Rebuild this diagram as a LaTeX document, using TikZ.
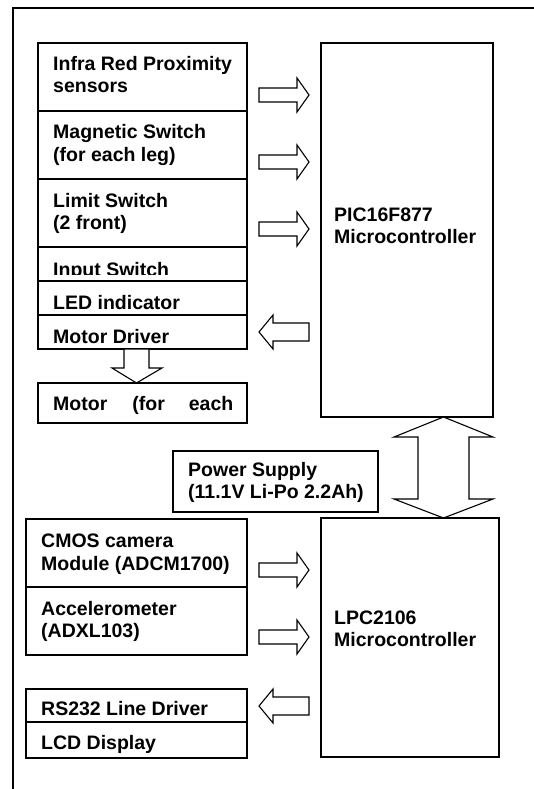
\documentclass[tikz,border=0pt]{standalone}
\usepackage{fontspec}
\setmainfont{Liberation Sans}
\begin{document}
\begin{tikzpicture}[x=1pt,y=-1pt,
  box/.style={draw,line width=1.3pt,inner sep=0pt,outer sep=0pt,anchor=north west},
  lbl/.style={anchor=base west,inner sep=0pt,font=\fontsize{19.5}{22}\selectfont\bfseries},
  blk/.style={draw,line width=1.1pt,fill=white,line join=miter},
  rarrow/.pic={\draw[blk] (0,-7) -- (38,-7) -- (38,-17) -- (50,0) -- (38,17) -- (38,7) -- (0,7) -- cycle;},
  larrow/.pic={\draw[blk] (50,-9) -- (14,-9) -- (14,-17) -- (0,0) -- (14,17) -- (14,9) -- (50,9) -- cycle;}
]
\useasboundingbox (0,0) rectangle (534,789);
% outer frame (open at right and bottom)
\draw[line width=1.3pt] (534,8) -- (13,8) -- (13,789);

% top left stack
\node[box,minimum width=209pt,minimum height=68pt] (ir) at (38,43) {};
\node[box,minimum width=209pt,minimum height=68pt] (mag) at (38,111) {};
\node[box,minimum width=209pt,minimum height=68pt] (lim) at (38,179) {};
\node[box,minimum width=209pt,minimum height=34pt] (inp) at (38,247) {};
\node[box,minimum width=209pt,minimum height=34pt] (led) at (38,281) {};
\node[box,minimum width=209pt,minimum height=34pt] (mdrv) at (38,315) {};
\node[box,minimum width=209pt,minimum height=40pt] (mot) at (38,383) {};

\node[lbl] (t1) at (53,71) {Infra Red Proximity};
\node[lbl] (t2) at (53,93) {sensors};
\node[lbl] (t3) at (53,139) {Magnetic Switch};
\node[lbl] (t4) at (53,161) {(for each leg)};
\node[lbl] (t5) at (53,207) {Limit Switch};
\node[lbl] (t6) at (53,229) {(2 front)};
\begin{scope}
\clip (38,247) rectangle (247,274);
\node[lbl] (t7) at (53,276) {Input Switch};
\end{scope}
\node[lbl] (t8) at (53,309) {LED indicator};
\node[lbl] (t9) at (53,343) {Motor Driver};
\node[lbl] (t10) at (53,410) {Motor\hspace{25pt}(for\hspace{24pt}each};

% PIC
\node[box,minimum width=172pt,minimum height=374pt] (pic) at (321,43) {};
\node[lbl] (t11) at (334,221) {PIC16F877};
\node[lbl] (t12) at (334,243) {Microcontroller};

% arrows top
\pic at (259,95) {rarrow};
\pic at (259,162) {rarrow};
\pic at (259,229) {rarrow};
\pic at (259,332) {larrow};
% down arrow motor driver -> motor
\draw[blk] (124,349) -- (149,349) -- (149,368) -- (162,368) -- (136.5,383) -- (112,368) -- (124,368) -- cycle;

% double arrow PIC <-> LPC
\draw[blk] (443.5,417) -- (493,437) -- (469,437) -- (469,499) -- (493,499) -- (443.5,518)
  -- (394,499) -- (418,499) -- (418,437) -- (394,437) -- cycle;

% power supply
\node[box,minimum width=205pt,minimum height=61pt] (ps) at (173,451) {};
\node[lbl] (t13) at (188,476) {Power Supply};
\node[lbl] (t14) at (188,498) {(11.1V Li-Po 2.2Ah)};

% LPC
\node[box,minimum width=178pt,minimum height=239pt] (lpc) at (321,518) {};
\node[lbl] (t15) at (334,624) {LPC2106};
\node[lbl] (t16) at (334,646) {Microcontroller};

% bottom left stack
\node[box,minimum width=221pt,minimum height=68pt] (cmos) at (26,519) {};
\node[box,minimum width=221pt,minimum height=68pt] (acc) at (26,587) {};
\node[lbl] (t17) at (41,547) {CMOS camera};
\node[lbl] (t18) at (41,570) {Module (ADCM1700)};
\node[lbl] (t19) at (41,615) {Accelerometer};
\node[lbl] (t20) at (41,637) {(ADXL103)};

\node[box,minimum width=221pt,minimum height=33pt] (rs) at (26,689) {};
\node[box,minimum width=221pt,minimum height=36pt] (lcd) at (26,722) {};
\node[lbl] (t21) at (41,715) {RS232 Line Driver};
\node[lbl] (t22) at (41,749) {LCD Display};

\pic at (259,570) {rarrow};
\pic at (259,637) {rarrow};
\pic at (259,706) {larrow};
\end{tikzpicture}
\end{document}
